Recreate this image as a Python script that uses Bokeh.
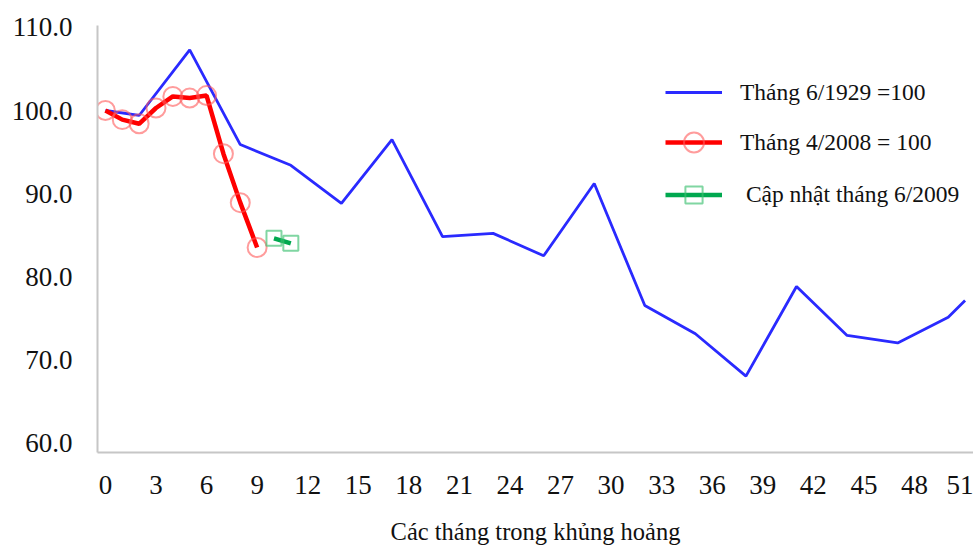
from bokeh.plotting import figure
from bokeh.models import Legend, LegendItem, NumeralTickFormatter, FixedTicker, Range1d
from bokeh.embed import file_html
from bokeh.resources import INLINE

# Industrial output index, months into each crisis
months_1929 = [0, 2, 5, 8, 11, 14, 17, 20, 23, 26, 29, 32, 35, 38, 41, 44, 47, 50, 51]
index_1929 = [100.0, 99.4, 107.3, 95.9, 93.4, 88.8, 96.5, 84.8, 85.2, 82.5, 91.2,
              76.5, 73.1, 68.0, 78.8, 72.9, 72.0, 75.1, 77.1]

months_2008 = [0, 1, 2, 3, 4, 5, 6, 7, 8, 9]
index_2008 = [100.0, 98.9, 98.4, 100.3, 101.7, 101.5, 101.8, 94.8, 88.9, 83.5]

months_update = [10, 11]
index_update = [84.6, 84.0]

x_ticks = [0, 3, 6, 9, 12, 15, 18, 21, 24, 27, 30, 33, 36, 39, 42, 45, 48, 51]
y_ticks = [60, 70, 80, 90, 100, 110]

label_1929 = "Tháng 6/1929 =100"
label_2008 = "Tháng 4/2008 = 100"
label_update = " Cập nhật tháng 6/2009"
x_title = "Các tháng trong khủng hoảng"

FONT = "Liberation Serif"

p = figure(
    frame_width=876, frame_height=427,
    min_border_left=97, min_border_right=0, min_border_top=25, min_border_bottom=95,
    x_range=Range1d(-0.47, 51.5), y_range=Range1d(58.8, 110.24),
    output_backend="svg", toolbar_location=None,
)
p.outline_line_color = None
p.grid.visible = False
p.background_fill_color = "white"
p.border_fill_color = "white"

for ax in (p.xaxis[0], p.yaxis[0]):
    ax.axis_line_color = "#c6c6c6"
    ax.axis_line_width = 2
    ax.major_tick_out = 0
    ax.major_tick_in = 0
    ax.minor_tick_out = 0
    ax.minor_tick_in = 0
    ax.major_label_text_font = FONT
    ax.major_label_text_font_size = "27px"
    ax.major_label_text_color = "#111111"

p.xaxis.ticker = FixedTicker(ticks=x_ticks)
p.yaxis.ticker = FixedTicker(ticks=y_ticks)
p.yaxis.formatter = NumeralTickFormatter(format="0.0")
p.yaxis.major_label_standoff = 25
p.xaxis.major_label_standoff = 23
p.xaxis.axis_label = x_title
p.xaxis.axis_label_text_font = FONT
p.xaxis.axis_label_text_font_size = "24.5px"
p.xaxis.axis_label_text_font_style = "normal"
p.xaxis.axis_label_text_color = "#111111"
p.xaxis.axis_label_standoff = 21

r_1929 = p.line(months_1929, index_1929, line_color="#2a2aff", line_width=2.8)
r_2008 = p.line(months_2008, index_2008, line_color="#ff0000", line_width=4.5)
r_2008_pts = p.scatter(months_2008, index_2008, marker="circle", size=19,
                       fill_color=None, line_color="#ff5a5a", line_alpha=0.6, line_width=2)
r_upd = p.line(months_update, index_update, line_color="#00a84f", line_width=4.5)
r_upd_pts = p.scatter(months_update, index_update, marker="square", size=15,
                      fill_color=None, line_color="#3cc070", line_alpha=0.65, line_width=2)

legend_main = Legend(
    items=[LegendItem(label=label_1929, renderers=[r_1929]),
           LegendItem(label=label_2008, renderers=[r_2008, r_2008_pts])],
    location=(568, 285), glyph_width=57, glyph_height=50, label_height=50,
    spacing=-1, padding=0, margin=0, label_standoff=18,
    border_line_color=None, background_fill_alpha=0,
    label_text_font=FONT, label_text_font_size="23.5px", label_text_color="#111111",
)
legend_upd = Legend(
    items=[LegendItem(label=label_update, renderers=[r_upd, r_upd_pts])],
    location=(568, 236), glyph_width=57, glyph_height=43, label_height=43,
    spacing=0, padding=0, margin=0, label_standoff=18,
    border_line_color=None, background_fill_alpha=0,
    label_text_font=FONT, label_text_font_size="23.5px", label_text_color="#111111",
)
p.add_layout(legend_main)
p.add_layout(legend_upd)

open("out.html", "w").write(file_html(p, INLINE))
